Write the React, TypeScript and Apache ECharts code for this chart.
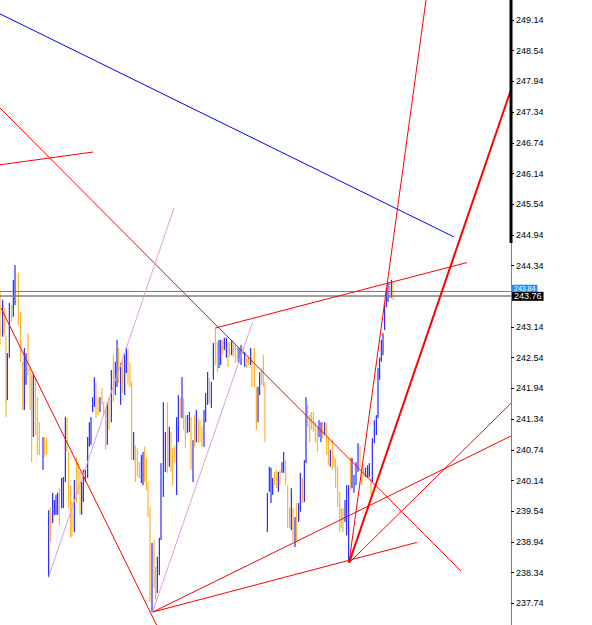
import React, { useEffect, useRef } from "react";
import * as echarts from "echarts";

// ---- price bars (time units along the hidden x axis) ----
const barTime = [
  0, 2.7, 4.3, 6, 7.3, 9.3, 11.7, 13.3, 15, 18.3, 20.7, 22.7, 24.3, 26, 28, 30, 31.7, 33.3, 35.3, 37.3,
  39.3, 43, 44.3, 46.3, 48.7, 50.3, 52.7, 54.3, 56, 57.7, 59.3, 61.7, 63.3, 65.3, 67, 68.7, 70.7, 72, 74.3, 76.3,
  78, 80, 81.7, 83.3, 85.3, 87.7, 89.3, 91, 92.7, 94.3, 96, 98, 100, 102, 103.7, 105.7, 107.3, 109, 111.3, 113.3,
  115.3, 117, 118.7, 120.7, 122.7, 124.7, 126.3, 128, 130, 131.7,
  133.7, 135.3, 137.3, 139.3, 141.3, 143, 144.7, 146.3, 148, 150, 152, 154, 155.7, 157.3, 159.3, 161, 163.3, 165.3,
  167.3, 169.3, 171, 172.7, 174.7, 176.7, 178.3, 180.3, 182, 183.7, 185.3, 187.3, 189.3, 191, 193, 194.7, 196.3,
  198.3, 200, 202, 204, 205.7, 207.7, 209.3, 211.3, 213.3, 215.3, 217.3, 219, 220.7, 222.7, 224.3, 226.3, 228,
  229.7, 231.7, 233.3, 235.3, 237.3, 239, 241, 243, 244.7, 246.7, 248.7, 250.7, 252, 254.3, 256.3, 258, 259.7,
  261.7, 263.3,
  265, 267.3, 269.3, 271, 272.7, 274.7, 276.7, 278.3, 280, 282, 283.7, 285.7, 287.7, 289.7, 291.3, 293, 295, 296.7,
  298.7, 300.3, 302.3, 304.3, 306, 307.7, 309.7, 311.3, 313.3, 315.3, 317.3, 319, 321, 322.7, 324.7, 326.7, 328.3,
  330.3, 332.3, 334, 335.7, 337.7, 339.7, 341.3, 343, 345, 346.7, 348.7, 350.7, 352, 354, 356, 358, 360, 362,
  363.7, 365.7, 367.7, 369.3, 371, 372.3, 374.3, 376.3, 378, 379.7, 381.3, 383, 384.7, 386.3, 388, 389.3, 391.3, 393,
];

const barHigh = [
  243.82, 243.67, 243.53, 242.98, 242.63, 243.61, 243.57, 244.06, 244.35, 244.2,
  243.43, 242.46, 242.73, 242.63, 243.02, 242.34, 242.2, 242.24, 242.14, 241.77,
  241.28, 240.99, 240.99, 240.97, 239.56, 239.62, 239.9, 239.76, 239.86, 239.9,
  239.99, 240.19, 240.21, 241.38, 241.36, 240.7, 240.05, 239.72, 240.15, 240.6,
  240.5, 240.31, 240.11, 240.35, 240.35, 240.99, 241.28, 241.38, 241.77, 242.16,
  242.05, 241.77, 241.77, 241.95, 241.67, 241.58, 241.67, 241.75, 242.3, 242.59,
  242.46, 242.89, 242.73, 242.44, 242.54, 242.63, 242.75, 242.73, 242.44, 242.07,
  241.09, 240.83, 240.77, 240.5, 240.64, 240.7, 240.8, 240.58, 240.11, 239.62,
  238.92, 238.98, 238.45, 238.65, 239.02, 240.48, 241.67, 241.09, 241.67, 241.19,
  241.09, 240.77, 240.83, 241.38, 241.81, 241.75, 242.16, 241.75, 241.42, 241.42,
  241.48, 241.38, 240.93, 241.42, 241.52, 241.36, 241.32, 241.19, 241.52, 241.85,
  242.26, 242.14, 242.07, 242.83, 243.12, 242.85, 242.89, 242.89, 242.89, 242.93,
  242.93, 242.85, 242.85, 242.89, 242.85, 242.79, 242.75, 242.73, 242.79, 242.75,
  242.65, 242.54, 242.59, 242.73, 242.54, 242.73, 241.97, 241.97, 242.26, 242.34, 242.59,
  242.07, 239.9, 240.41, 240.39, 240.19, 240.31, 240.35, 240.31, 240.35,
  240.5, 240.7, 240.54, 240.05, 239.62, 239.99, 239.6, 239.43, 239.7, 239.7,
  240.29, 240.19, 240.54, 241.77, 241.62, 241.42, 241.48, 241.48, 241.28, 241.17,
  241.32, 241.28, 241.28, 241.28, 241.26, 240.97, 240.74, 240.93, 240.64, 240.58,
  240.41, 239.92, 239.6, 239.6, 239.76, 240.05, 240.05, 240.6, 240.58, 240.25,
  240.5, 240.87, 240.83, 240.44, 240.39, 240.39, 240.44, 240.48, 240.19, 240.97,
  241.32, 241.42, 242.34, 242.54, 242.89, 243.02, 243.57, 243.9, 244.02, 244.02, 244.06, 244.02,
];

const barLow = [
  242.79, 242.95, 242.98, 241.38, 241.71, 242.54, 243.24, 243.34, 243.57, 243.18,
  242.46, 241.52, 241.52, 242.01, 242.2, 241.52, 240.5, 240.99, 241.03, 240.64,
  240.64, 240.35, 240.6, 240.64, 238.25, 238.94, 239.31, 239.47, 239.47, 239.47,
  239.27, 239.6, 239.6, 240.11, 240.7, 239.6, 239.02, 239.04, 239.13, 239.7,
  239.86, 239.47, 239.47, 239.72, 240.11, 240.19, 240.8, 240.84, 241.48, 241.58,
  241.36, 241.42, 241.48, 241.62, 241.42, 240.74, 240.84, 241.13, 241.28, 241.67,
  241.81, 241.97, 242.05, 241.62, 241.85, 241.81, 242.24, 242.01, 241.97, 240.54,
  240.54, 240.11, 240.21, 240.19, 240.09, 240.05, 240.11, 239.95, 239.43, 237.77,
  237.57, 238.04, 237.81, 237.94, 238.29, 238.98, 239.82, 240.31, 240.29, 240.41,
  240.31, 240.05, 240.5, 239.86, 240.89, 241.38, 241.36, 241.13, 240.78, 241.07,
  241.09, 240.35, 240.11, 240.8, 240.89, 240.87, 240.89, 240.8, 240.8, 241.28,
  241.62, 241.65, 241.56, 242.11, 242.4, 242.26, 242.34, 242.4, 242.59, 242.69,
  242.54, 242.36, 242.56, 242.59, 242.56, 242.44, 242.46, 242.44, 242.4, 242.59,
  242.36, 242.34, 242.4, 242.4, 241.97, 241.97, 241.13, 241.28, 241.81, 242.01, 241.97,
  240.89, 239.13, 239.92, 239.7, 239.86, 240.05, 239.99, 239.92, 240.05,
  240.29, 240.29, 240.05, 239.21, 239.21, 239.17, 238.94, 238.84, 238.94, 239.33,
  239.53, 239.7, 239.72, 240.48, 241.19, 240.89, 241.13, 241.09, 240.89, 240.7,
  240.99, 240.89, 240.97, 241.03, 240.64, 240.44, 240.41, 240.35, 240.39, 239.99,
  239.62, 239.13, 239.21, 239.13, 239.33, 239.07, 238.55, 239.95, 239.99, 239.9,
  240.05, 240.31, 240.39, 240.05, 240.21, 240.21, 240.19, 240.21, 239.86, 240.11,
  240.87, 241.03, 241.36, 242.11, 242.46, 242.59, 243.08, 243.53, 243.63, 243.71, 243.71, 243.67,
];

// B = up bar (blue), O = down bar (orange)
const barDir =
  "OBOOBBOBBO" + "OOBBOOOBOO" + "OBOOBOBBBB" + "OBBBOOOOBO" + "OOBBBBBBBB" +
  "OOBOOOBOBO" + "BBOBOBBOOO" + "BOOOBBOOOO" + "BOOBBBBBOB" + "OOOBBOBOOB" +
  "BOBOBOOOBB" + "BOBBOOBBOB" + "BOOBOOOBBO" + "BOOBOOOBBOO" + "OBBBBOOBO" +
  "BBOOOBOBOB" + "BOBBOOOOOO" + "BBOBOOBOOO" + "OOOOBBBOBB" + "BBOOOBBBOB" +
  "BBBBBBBBBOBO";

// ---- horizontal price lines ----
const askPrice = 243.84;
const bidPrice = 243.76;

// ---- trend lines: [time, price] endpoints ----
const blueTrend = [[0, 249.26], [454, 244.9]];
const redShort = [[0, 246.31], [93, 246.56]];
const redLongDiag = [[0, 247.42], [461, 238.37]];
const redLeftDown = [[1, 243.51], [157.5, 237.28]];
const channelTop = [[215.3, 243.12], [467, 244.4]];
const thickUp = [[349, 238.53], [511, 247.78]];
const steepUp = [[349, 238.53], [426, 249.53]];
const fanA = [[152.7, 237.57], [511, 241.01]];
const fanB = [[152.7, 237.57], [416.7, 238.93]];
const fanC = [[349, 238.53], [511, 241.65]];
const pinkA = [[48.7, 238.26], [174, 245.47]];
const pinkB = [[152.7, 237.58], [252.7, 243.24]];

// ---- price scale labels ----
const priceTicks = [
  237.74, 238.34, 238.94, 239.54, 240.14, 240.74, 241.34, 241.94, 242.54, 243.14,
  244.34, 244.94, 245.54, 246.14, 246.74, 247.34, 247.94, 248.54, 249.14,
];

const Y_MIN = 237.317;
const Y_MAX = 249.531;

function trend(data: number[][], color: string, width = 1, z = 5) {
  return {
    type: "line",
    data,
    symbol: "none",
    silent: true,
    clip: true,
    z,
    lineStyle: { color, width },
  };
}

export default function App() {
  const ref = useRef<HTMLDivElement>(null);

  useEffect(() => {
    if (!ref.current) return;
    const chart = echarts.init(ref.current, null, { renderer: "svg" });

    const bars = barTime.map((t, i) => [t, barHigh[i], barLow[i], barDir[i] === "B" ? 1 : 0]);

    const option: any = {
      animation: false,
      backgroundColor: "#ffffff",
      grid: { left: 0, right: 81, top: 0, bottom: 0, containLabel: false },
      xAxis: {
        type: "value",
        min: 0,
        max: 511,
        show: false,
        axisLine: { show: false, onZero: false },
        axisTick: { show: false },
        axisLabel: { show: false },
        splitLine: { show: false },
      },
      yAxis: {
        type: "value",
        position: "right",
        min: Y_MIN,
        max: Y_MAX,
        axisLine: { show: true, onZero: false, lineStyle: { color: "#808080", width: 1 } },
        axisTick: {
          show: true,
          inside: false,
          length: 3,
          customValues: priceTicks,
          lineStyle: { color: "#000000" },
        },
        axisLabel: {
          show: true,
          customValues: priceTicks,
          margin: 5,
          color: "#000000",
          fontSize: 9,
          fontFamily: "Liberation Sans",
          formatter: (v: number) => v.toFixed(2),
        },
        splitLine: { show: false },
        splitArea: { show: false },
        minorTick: { show: false },
        minorSplitLine: { show: false },
      },
      graphic: [
        {
          type: "rect",
          shape: { x: 509.5, y: 0, width: 3, height: 243 },
          style: { fill: "#000000" },
          z: 100,
          silent: true,
        },
      ],
      series: [
        {
          type: "custom",
          data: bars,
          encode: { x: 0, y: [1, 2] },
          silent: true,
          z: 2,
          renderItem: (params: any, api: any) => {
            const t = api.value(0);
            const p1 = api.coord([t, api.value(1)]);
            const p2 = api.coord([t, api.value(2)]);
            return {
              type: "line",
              shape: { x1: p1[0], y1: p1[1], x2: p2[0], y2: p2[1] },
              style: { stroke: api.value(3) ? "#0000FF" : "#FFA500", lineWidth: 1 },
            };
          },
        },
        {
          type: "line",
          data: [],
          silent: true,
          z: 6,
          markLine: {
            silent: true,
            symbol: ["none", "none"],
            lineStyle: { color: "#1E90FF", width: 1, type: "solid" },
            label: {
              show: true,
              position: "end",
              distance: 1,
              offset: [0, -3],
              formatter: askPrice.toFixed(2),
              color: "#ffffff",
              backgroundColor: "#1E90FF",
              fontSize: 7,
              fontFamily: "Liberation Sans",
              padding: [0, 2, 0, 2],
            },
            data: [{ yAxis: askPrice }],
          },
        },
        {
          type: "line",
          data: [],
          silent: true,
          z: 7,
          markLine: {
            silent: true,
            symbol: ["none", "none"],
            lineStyle: { color: "#808080", width: 1.5, type: "solid" },
            label: {
              show: true,
              position: "end",
              distance: 1,
              offset: [0, 1],
              formatter: bidPrice.toFixed(2),
              color: "#ffffff",
              backgroundColor: "#000000",
              fontSize: 9,
              fontFamily: "Liberation Sans",
              padding: [0, 2, 0, 2],
            },
            data: [{ yAxis: bidPrice }],
          },
        },
        trend(blueTrend, "#0000FF"),
        trend(redShort, "#FF0000"),
        trend(redLongDiag, "#FF0000"),
        trend(redLeftDown, "#FF0000"),
        trend(channelTop, "#FF0000"),
        trend(thickUp, "#FF0000", 2),
        trend(steepUp, "#FF0000"),
        trend(fanA, "#FF0000"),
        trend(fanB, "#FF0000"),
        trend(fanC, "#FF0000"),
        trend(pinkA, "#DDA0DD"),
        trend(pinkB, "#DDA0DD"),
      ],
    };

    chart.setOption(option);
    return () => chart.dispose();
  }, []);

  return (
    <div
      ref={ref}
      style={{ position: "fixed", left: 0, top: 0, width: 592, height: 625, background: "#fff" }}
    />
  );
}
